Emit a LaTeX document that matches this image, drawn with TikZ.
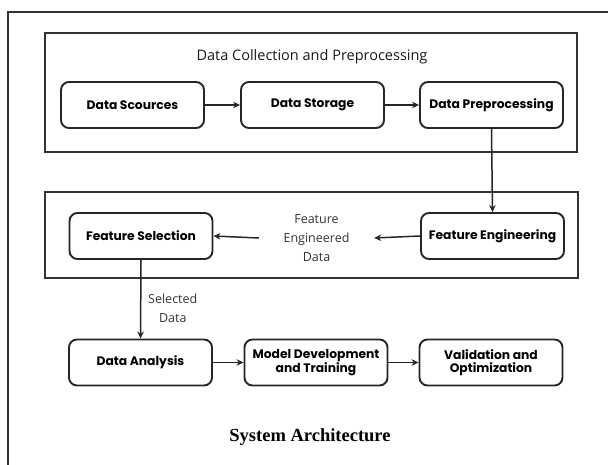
\documentclass[tikz,border=0pt]{standalone}
\usepackage{fontspec}
\setmainfont{Liberation Serif}
\newfontfamily\boxfont{Poppins}
\newfontfamily\labfont{Open Sans}
\usetikzlibrary{arrows.meta}
\tikzset{
  stepbox/.style={draw=black!85, line width=1.9pt, rounded corners=8pt,
    minimum width=143pt, minimum height=46pt, inner sep=1pt, align=center,
    font=\boxfont\bfseries\fontsize{12.3}{13}\selectfont},
  groupbox/.style={draw=black!80, line width=2.3pt},
  conn/.style={line width=1.5pt, draw=black!85, -{Stealth[length=7pt,width=6.5pt]}},
  lab/.style={text=black!80, align=center, font=\labfont\fontsize{12.5}{19}\selectfont},
}
\begin{document}
\begin{tikzpicture}[x=1pt,y=-1pt]
\useasboundingbox (0,0) rectangle (608,465);
% outer frame (only top and left visible)
\draw[line width=1.6pt, draw=black!80] (608,12) -- (8,12) -- (8,465);
% containers
\draw[groupbox] (45,33) rectangle (577,152);
\draw[groupbox] (45,192) rectangle (578,278);
\node[font=\labfont\fontsize{14.5}{16}\selectfont, text=black!90] (t1) at (312,57) {Data Collection and Preprocessing};
% nodes
\node[stepbox] (ds) at (132.5,105) {Data Scources};
\node[stepbox] (dst) at (312.5,105) {Data Storage};
\node[stepbox] (dp) at (491.5,105) {Data Preprocessing};
\node[stepbox] (fe) at (492.5,236) {Feature Engineering};
\node[stepbox] (fs) at (141,236) {Feature Selection};
\node[stepbox] (da) at (140.5,362.5) {Data Analysis};
\node[stepbox] (md) at (316,362.5) {Model Development\\and Training};
\node[stepbox] (vo) at (491,362.5) {Validation and\\Optimization};
\node[lab, minimum width=115pt, inner sep=0pt] (fed) at (316.5,238) {Feature\\Engineered\\Data};
\node[lab, anchor=west, inner sep=0pt] (sel) at (148,308) {Selected\\Data};
\node[font=\fontsize{18.5}{20}\selectfont\bfseries, text=black] (title) at (310,437) {System Architecture};
% connectors
\draw[conn] (ds.east) -- (dst.west);
\draw[conn] (dst.east) -- (dp.west);
\draw[conn] (dp.south) -- (fe.north);
\draw[conn] (fe.west) -- (fed.east);
\draw[conn] (fed.west) -- (fs.east);
\draw[conn] (fs.south) -- (da.north);
\draw[conn] (da.east) -- (md.west);
\draw[conn] (md.east) -- (vo.west);
\end{tikzpicture}
\end{document}
